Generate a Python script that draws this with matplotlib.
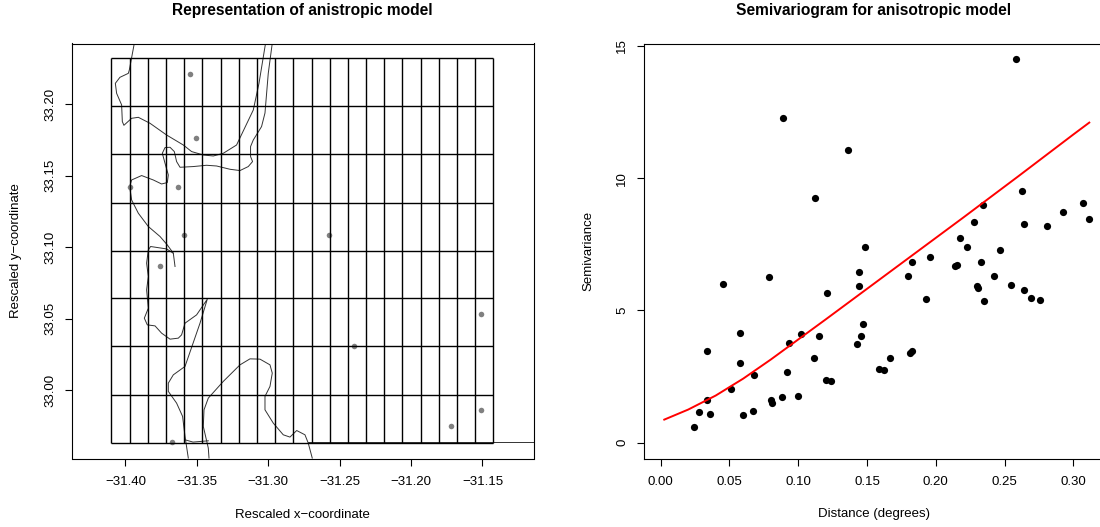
import matplotlib
matplotlib.use("Agg")
import matplotlib.pyplot as plt

plt.rcParams['font.family'] = ['Liberation Sans', 'DejaVu Sans']

# left panel, grid of the model
gridX = [-31.4098, -31.3971, -31.3843, -31.3716, -31.3588, -31.3461, -31.3334, -31.3206,
         -31.3079, -31.2952, -31.2824, -31.2697, -31.2569, -31.2442, -31.2315, -31.2187,
         -31.2060, -31.1933, -31.1805, -31.1678, -31.1550, -31.1423]
gridY = [32.9632, 32.9968, 33.0305, 33.0641, 33.0977, 33.1313, 33.1650, 33.1986, 33.2322]

# stations
stationX = [-31.3546, -31.3504, -31.3630, -31.3971, -31.3588, -31.3758, -31.3674,
            -31.2400, -31.1509, -31.1509, -31.1721, -31.2572]
stationY = [33.2211, 33.1763, 33.1425, 33.1425, 33.1089, 33.0865, 32.9635,
            33.0305, 33.0529, 32.9857, 32.9745, 33.1089]

# outlines
riverAX = [-31.3938, -31.3973, -31.3980, -31.4039, -31.4071, -31.4062, -31.4027, -31.4022,
           -31.4011, -31.3957, -31.3910, -31.3828, -31.3712, -31.3595, -31.3537, -31.3455,
           -31.3385, -31.3315, -31.3222, -31.3105, -31.3065, -31.3019]
riverAY = [33.2429, 33.2242, 33.2218, 33.2190, 33.2148, 33.2078, 33.1997, 33.1880,
           33.1854, 33.1903, 33.1910, 33.1868, 33.1786, 33.1716, 33.1670, 33.1646,
           33.1639, 33.1658, 33.1716, 33.1961, 33.2148, 33.2429]

riverBX = [-31.2972, -31.3000, -31.3023, -31.3047, -31.3105, -31.3124, -31.3124, -31.3110,
           -31.3140, -31.3198, -31.3268, -31.3362, -31.3432, -31.3525, -31.3618, -31.3642,
           -31.3658, -31.3688, -31.3723, -31.3742, -31.3723, -31.3700, -31.3707, -31.3747,
           -31.3805, -31.3887, -31.3957, -31.3971, -31.3957, -31.3910, -31.3840, -31.3758,
           -31.3707, -31.3665, -31.3653]
riverBY = [33.2429, 33.2218, 33.1940, 33.1845, 33.1751, 33.1705, 33.1635, 33.1600,
           33.1565, 33.1537, 33.1546, 33.1569, 33.1574, 33.1565, 33.1560, 33.1600,
           33.1670, 33.1700, 33.1698, 33.1658, 33.1588, 33.1506, 33.1453, 33.1443,
           33.1471, 33.1502, 33.1471, 33.1425, 33.1331, 33.1238, 33.1145, 33.1075,
           33.1016, 33.0958, 33.0865]

riverCX = [-31.3665, -31.3712, -31.3824, -31.3840, -31.3852, -31.3840, -31.3852, -31.3840,
           -31.3868, -31.3847, -31.3793, -31.3747, -31.3688, -31.3630, -31.3607, -31.3583,
           -31.3502, -31.3427, -31.3478, -31.3583, -31.3665, -31.3700, -31.3700, -31.3642,
           -31.3600, -31.3583, -31.3560]
riverCY = [33.0958, 33.0988, 33.1005, 33.0981, 33.0888, 33.0795, 33.0701, 33.0573,
           33.0503, 33.0456, 33.0449, 33.0398, 33.0356, 33.0363, 33.0386, 33.0468,
           33.0526, 33.0636, 33.0468, 33.0165, 33.0106, 33.0048, 32.9990, 32.9908,
           32.9815, 32.9675, 32.9523]

riverDX = [-31.3415, -31.3420, -31.3455, -31.3450, -31.3420, -31.3315, -31.3198, -31.3128,
           -31.3058, -31.2988, -31.2972, -31.2988, -31.3023, -31.3023, -31.2965, -31.2895,
           -31.2848, -31.2801, -31.2743, -31.2720, -31.2692]
riverDY = [32.9523, 32.9593, 32.9745, 32.9861, 32.9943, 33.0060, 33.0176, 33.0218,
           33.0216, 33.0176, 33.0118, 33.0025, 32.9955, 32.9861, 32.9768, 32.9686,
           32.9670, 32.9716, 32.9686, 32.9628, 32.9523]

riverEX = [-31.3583, -31.3527, -31.3420]
riverEY = [32.9651, 32.9635, 32.9644]

riverFX = [-31.2720, -31.1139]
riverFY = [32.9634, 32.9634]

leftXTicks = [-31.40, -31.35, -31.30, -31.25, -31.20, -31.15]
leftYTicks = [33.00, 33.05, 33.10, 33.15, 33.20]

# right panel, empirical semivariogram
distance = [.0240, .0281, .0358, .0339, .0339, .0451, .0790, .0574, .0574, .0678, .0509,
            .0598, .0671, .0802, .0811, .0880, .0998, .0921, .0933, .1020, .1112, .1151,
            .1209, .1200, .1238, .1425, .1459, .1471, .1440, .1442, .0891, .1362, .1122,
            .1488, .2583, .2625, .2346, .2276, .2179, .2225, .2644, .2811, .2923, .3071,
            .3116, .2467, .1829, .1956, .1796, .2138, .2157, .2327, .2421, .2302, .2305,
            .2547, .2642, .2695, .2760, .1931, .2349, .1589, .1626, .1665, .1813, .1829]
semivariance = [.605, 1.15, 1.085, 1.63, 3.46, 5.99, 6.28, 4.16, 3.00, 2.55, 2.04,
                1.05, 1.20, 1.63, 1.51, 1.74, 1.77, 2.67, 3.78, 4.11, 3.19, 4.02,
                5.66, 2.37, 2.33, 3.72, 4.05, 4.50, 5.94, 6.45, 12.29, 11.07, 9.25,
                7.39, 14.52, 9.52, 8.97, 8.33, 7.74, 7.39, 8.26, 8.19, 8.73, 9.05,
                8.46, 7.27, 6.83, 7.02, 6.31, 6.68, 6.73, 6.84, 6.31, 5.92, 5.86,
                5.96, 5.77, 5.47, 5.38, 5.43, 5.36, 2.78, 2.76, 3.19, 3.40, 3.48]

modelX = [.0026, .02, .04, .06, .08, .10, .12, .14, .16, .18, .20, .22, .24, .26, .28, .30, .3116]
modelY = [.87, 1.25, 1.78, 2.42, 3.14, 3.90, 4.66, 5.43, 6.20, 6.97, 7.74, 8.51, 9.29, 10.07,
          10.86, 11.65, 12.10]

rightXTicks = [0.00, 0.05, 0.10, 0.15, 0.20, 0.25, 0.30]
rightYTicks = [0, 5, 10, 15]

W = 1100.0
H = 527.0
fontSize = 9.5
titleSize = 11.2


def styleAxes(ax):
    for s in ax.spines.values():
        s.set_linewidth(0.8)
    ax.tick_params(axis='x', length=5, width=0.8, labelsize=fontSize, pad=7.5)
    ax.tick_params(axis='y', length=5, width=0.8, labelsize=fontSize, pad=6)
    plt.setp(ax.get_yticklabels(), rotation=90, va='center')


fig = plt.figure(figsize=(11, 5.27), dpi=100)

### LEFT PANEL ###
ax1 = fig.add_axes([71.5 / W, (H - 458.5) / H, 462.5 / W, 415 / H])
for name in 'ABCDEF':
    rx = globals()['river' + name + 'X']
    ry = globals()['river' + name + 'Y']
    ax1.plot(rx, ry, color='#333333', linewidth=0.7)
ax1.plot(stationX, stationY, 'o', color='#808080', markersize=4, markeredgewidth=0)
ax1.vlines(gridX, gridY[0], gridY[-1], color='black', linewidth=1.0)
ax1.hlines(gridY, gridX[0], gridX[-1], color='black', linewidth=1.0)
ax1.set_xlim(-31.4378, -31.1139)
ax1.set_ylim(32.9520, 33.2427)
ax1.set_xticks(leftXTicks)
ax1.set_xticklabels([('%.2f' % t).replace('-', '\u2212') for t in leftXTicks])
ax1.set_yticks(leftYTicks)
ax1.set_yticklabels(['%.2f' % t for t in leftYTicks])
styleAxes(ax1)
fig.text(302.5 / W, 1 - 10 / H, 'Representation of anistropic model', fontsize=titleSize,
         fontweight='bold', ha='center', va='center')
fig.text(302.5 / W, 1 - 514.5 / H, 'Rescaled x\u2212coordinate', fontsize=fontSize,
         ha='center', va='center')
fig.text(16 / W, 1 - 251 / H, 'Rescaled y\u2212coordinate', fontsize=fontSize,
         rotation=90, ha='center', va='center')

### RIGHT PANEL ###
ax2 = fig.add_axes([643.5 / W, (H - 458.5) / H, 460.5 / W, 415 / H])
ax2.plot(distance, semivariance, 'o', color='black', markersize=5.2, markeredgewidth=0)
ax2.plot(modelX, modelY, color='red', linewidth=1.4)
ax2.set_xlim(-0.0125, 0.3223)
ax2.set_ylim(-0.60, 15.09)
ax2.set_xticks(rightXTicks)
ax2.set_xticklabels(['%.2f' % t for t in rightXTicks])
ax2.set_yticks(rightYTicks)
styleAxes(ax2)
fig.text(874 / W, 1 - 10 / H, 'Semivariogram for anisotropic model', fontsize=titleSize,
         fontweight='bold', ha='center', va='center')
fig.text(874 / W, 1 - 514.5 / H, 'Distance (degrees)', fontsize=fontSize,
         ha='center', va='center')
fig.text(588.5 / W, 1 - 251 / H, 'Semivariance', fontsize=fontSize,
         rotation=90, ha='center', va='center')

fig.savefig('out.png', dpi=100)
